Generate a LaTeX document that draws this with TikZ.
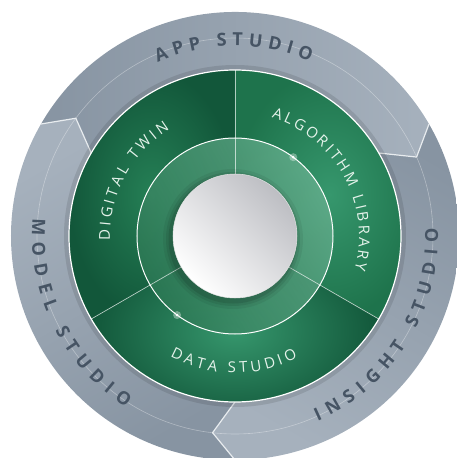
\documentclass[tikz,border=0pt]{standalone}
\usepackage{fontspec}
\newfontfamily\ringfont{Open Sans}
\usetikzlibrary{decorations.text}

\definecolor{slatedark}{HTML}{8794A2}
\definecolor{slatemid}{HTML}{A6B1BD}
\definecolor{slatelight}{HTML}{BCC6CF}
\definecolor{slatetext}{HTML}{465464}
\definecolor{greendark}{HTML}{12573A}
\definecolor{greenmid}{HTML}{217A50}
\definecolor{greenlight}{HTML}{36976D}
\definecolor{bandlight}{HTML}{62AC8B}
\definecolor{banddark}{HTML}{2C7955}
\definecolor{hubgray}{HTML}{BDBEC3}
\definecolor{edgewhite}{HTML}{E8ECEF}
\definecolor{labelwhite}{HTML}{E4F2EA}

\newcommand\outerfont{\ringfont\bfseries\fontsize{18}{18}\selectfont}
\newcommand\innerfont{\ringfont\fontsize{15}{15}\selectfont}

\begin{document}
\begin{tikzpicture}[
    x=1pt, y=1pt,
    outer label/.style={decorate, decoration={text along path,
        text={|\outerfont|#1}, text color=slatetext, text align={fit to path}}},
    inner label/.style={decorate, decoration={text along path,
        text={|\innerfont|#1}, text color=labelwhite, text align={fit to path}}},
    chevron/.style={draw=edgewhite, line width=1.2pt, line join=round},
    divider/.style={draw=white, draw opacity=0.65, line width=0.7pt}
]
\useasboundingbox (-235,-222) rectangle (222,236);

% Outer ring segments
\shade[top color=slatedark, middle color=slatelight, bottom color=slatemid, shading angle=90]
    (150:224pt) arc[start angle=150, end angle=30, radius=224pt] -- (23.5:198pt) -- (30:166pt)
    arc[start angle=30, end angle=150, radius=166pt] -- (143.5:198pt) -- cycle;
\shade[top color=slatedark, middle color=slatelight, bottom color=slatemid, shading angle=-30]
    (30:224pt) arc[start angle=30, end angle=-90, radius=224pt] -- (-96.5:198pt) -- (-90:166pt)
    arc[start angle=-90, end angle=30, radius=166pt] -- (23.5:198pt) -- cycle;
\shade[top color=slatedark, middle color=slatelight, bottom color=slatemid, shading angle=-150]
    (270:224pt) arc[start angle=270, end angle=150, radius=224pt] -- (143.5:198pt) -- (150:166pt)
    arc[start angle=150, end angle=270, radius=166pt] -- (263.5:198pt) -- cycle;

% Mid line of the ring
\draw[white, opacity=0.35, line width=0.6pt] (0,0) circle (198pt);

% Chevrons
\foreach \a in {30,150,270}
    \draw[chevron] (\a:224pt) -- (\a-6.5:198pt) -- (\a:166pt);

% Ring labels
\path[outer label={APP STUDIO}] (114:190pt) arc[start angle=114, end angle=66.8, radius=190pt];
\path[outer label={MODEL STUDIO}] (175:203pt) arc[start angle=175, end angle=237.5, radius=203pt];
\path[outer label={INSIGHT STUDIO}] (294:203pt) arc[start angle=294, end angle=362.2, radius=203pt];

% Shadow of the green disk
\fill[black, opacity=0.1] (0,0) circle (171pt);

% Green sectors
\shade[inner color=greenmid!80!greenlight, outer color=greendark]
    (0,0) -- (90:166pt) arc[start angle=90, end angle=210, radius=166pt] -- cycle;
\shade[inner color=greenlight, outer color=greenmid!80!greendark]
    (0,0) -- (-30:166pt) arc[start angle=-30, end angle=90, radius=166pt] -- cycle;
\shade[inner color=greenlight, outer color=greendark]
    (0,0) -- (210:166pt) arc[start angle=210, end angle=330, radius=166pt] -- cycle;
\draw[white, line width=1.2pt] (0,0) circle (166pt);

% Sector labels
\path[inner label={DIGITAL TWIN}] (182:125pt) arc[start angle=182, end angle=121.5, radius=125pt];
\path[inner label={ALGORITHM LIBRARY}] (72.8:124pt) arc[start angle=72.8, end angle=-15.5, radius=124pt];
\path[inner label={DATA STUDIO}] (241.7:137pt) arc[start angle=241.7, end angle=297.2, radius=137pt];

% Inner band
\shade[even odd rule, top color=bandlight, bottom color=banddark, shading angle=-60, opacity=0.85]
    (0,0) circle (98pt) (0,0) circle (62pt);
\foreach \a in {90,210,330}
    \draw[divider] (\a:62pt) -- (\a:166pt);
\draw[white, line width=1pt] (0,0) circle (98pt);

% Hub shadow
\foreach \r/\o in {70/0.06,67/0.08,64.5/0.1}
    \fill[black, opacity=\o] (-2pt,-3pt) circle (\r pt);

% Hub
\shade[top color=hubgray, bottom color=white, shading angle=-45] (0,0) circle (62pt);
\draw[white!80!gray, line width=0.5pt] (0,0) circle (62pt);

% Sparkles
\foreach \a in {53.5,233.8} {
    \fill[white, opacity=0.35] (\a:98pt) circle (4pt);
    \fill[white] (\a:98pt) circle (1.4pt);
}
\end{tikzpicture}
\end{document}
